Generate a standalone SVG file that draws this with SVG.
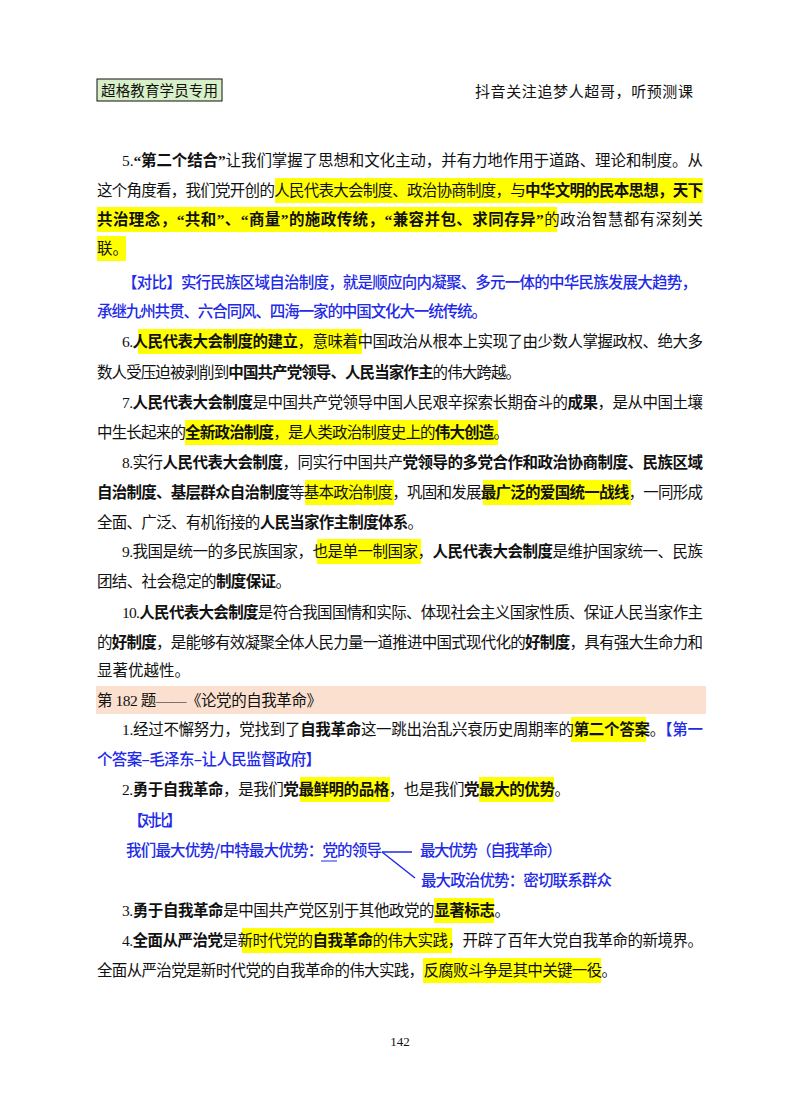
<svg xmlns="http://www.w3.org/2000/svg" width="800" height="1114" viewBox="0 0 800 1114">
<style>
text{font-family:"Liberation Serif","Noto Sans CJK SC",serif;font-size:15.5px;fill:#111}
.b{font-weight:bold}
.bl{fill:#1f2be8;font-family:"Noto Sans CJK SC",sans-serif;font-weight:500}
.hl{fill:#ffff00}
</style>
<rect width="800" height="1114" fill="#fff"/>
<g id="header">
<rect x="97" y="79" width="125" height="22" fill="#d8f0c8" stroke="#111" stroke-width="1"/>
<text x="101" y="96" style="font-size:14.5px" textLength="117">超格教育学员专用</text>
<text x="475" y="97" style="font-size:15px" textLength="218">抖音关注追梦人超哥，听预测课</text>
</g>
<g id="highlights">
<rect class="hl" x="275" y="178" width="428" height="25"/>
<rect class="hl" x="97" y="207" width="460" height="25"/>
<rect class="hl" x="97" y="236" width="29" height="25"/>
<rect class="hl" x="138" y="329" width="224" height="25"/>
<rect class="hl" x="185" y="420" width="313" height="25"/>
<rect class="hl" x="305" y="480" width="89" height="25"/>
<rect class="hl" x="483" y="480" width="148" height="25"/>
<rect class="hl" x="317" y="539" width="104" height="25"/>
<rect x="96" y="686" width="610" height="28" fill="#fbe0cf"/>
<rect class="hl" x="571" y="717" width="75" height="25"/>
<rect class="hl" x="300" y="777" width="90" height="25"/>
<rect class="hl" x="479" y="777" width="75" height="25"/>
<rect class="hl" x="434" y="898" width="60" height="25"/>
<rect class="hl" x="242" y="928" width="210" height="25"/>
<rect class="hl" x="423" y="958" width="178" height="25"/>
</g>
<g id="body">
<text x="122" y="166" textLength="581">5.<tspan class="b">“第二个结合”</tspan>让我们掌握了思想和文化主动，并有力地作用于道路、理论和制度。从</text>
<text x="97" y="196" textLength="606">这个角度看，我们党开创的人民代表大会制度、政治协商制度，与<tspan class="b">中华文明的民本思想，天下</tspan></text>
<text x="97" y="225" textLength="606"><tspan class="b">共治理念，“共和”、“商量”的施政传统，“兼容并包、求同存异”</tspan>的政治智慧都有深刻关</text>
<text x="97" y="254">联。</text>
<text x="122" y="288" class="bl" textLength="575">【对比】实行民族区域自治制度，就是顺应向内凝聚、多元一体的中华民族发展大趋势，</text>
<text x="97" y="317" class="bl" textLength="390">承继九州共贯、六合同风、四海一家的中国文化大一统传统。</text>
<text x="122" y="347" textLength="581">6.<tspan class="b">人民代表大会制度的建立</tspan>，意味着中国政治从根本上实现了由少数人掌握政权、绝大多</text>
<text x="97" y="378" textLength="424">数人受压迫被剥削到<tspan class="b">中国共产党领导、人民当家作主</tspan>的伟大跨越。</text>
<text x="122" y="408" textLength="581">7.<tspan class="b">人民代表大会制度</tspan>是中国共产党领导中国人民艰辛探索长期奋斗的<tspan class="b">成果</tspan>，是从中国土壤</text>
<text x="97" y="438" textLength="412">中生长起来的<tspan class="b">全新政治制度</tspan>，是人类政治制度史上的<tspan class="b">伟大创造</tspan>。</text>
<text x="122" y="468" textLength="581">8.实行<tspan class="b">人民代表大会制度</tspan>，同实行中国共产<tspan class="b">党领导的多党合作和政治协商制度、民族区域</tspan></text>
<text x="97" y="498" textLength="606"><tspan class="b">自治制度、基层群众自治制度</tspan>等基本政治制度，巩固和发展<tspan class="b">最广泛的爱国统一战线</tspan>，一同形成</text>
<text x="97" y="528" textLength="326">全面、广泛、有机衔接的<tspan class="b">人民当家作主制度体系</tspan>。</text>
<text x="122" y="557" textLength="581">9.我国是统一的多民族国家，也是单一制国家，<tspan class="b">人民代表大会制度</tspan>是维护国家统一、民族</text>
<text x="97" y="587" textLength="194">团结、社会稳定的<tspan class="b">制度保证</tspan>。</text>
<text x="122" y="618" textLength="581">10.<tspan class="b">人民代表大会制度</tspan>是符合我国国情和实际、体现社会主义国家性质、保证人民当家作主</text>
<text x="97" y="648" textLength="606">的<tspan class="b">好制度</tspan>，是能够有效凝聚全体人民力量一道推进中国式现代化的<tspan class="b">好制度</tspan>，具有强大生命力和</text>
<text x="97" y="676" textLength="93">显著优越性。</text>
<text x="97" y="706" textLength="225">第 182 题——《论党的自我革命》</text>
<text x="122" y="735" textLength="581">1.经过不懈努力，党找到了<tspan class="b">自我革命</tspan>这一跳出治乱兴衰历史周期率的<tspan class="b">第二个答案</tspan>。<tspan class="bl">【第一</tspan></text>
<text x="97" y="765" class="bl" textLength="224">个答案–毛泽东–让人民监督政府】</text>
<text x="122" y="795" textLength="448">2.<tspan class="b">勇于自我革命</tspan>，是我们<tspan class="b">党最鲜明的品格</tspan>，也是我们<tspan class="b">党最大的优势</tspan>。</text>
<text x="128" y="826" class="bl" textLength="54">【对比】</text>
<text x="126" y="856" class="bl" textLength="256">我们最大优势/中特最大优势：党的领导</text>
<text x="420" y="856" class="bl" textLength="142">最大优势（自我革命）</text>
<text x="421" y="886" class="bl" textLength="191">最大政治优势：密切联系群众</text>
<text x="122" y="916" textLength="388">3.<tspan class="b">勇于自我革命</tspan>是中国共产党区别于其他政党的<tspan class="b">显著标志</tspan>。</text>
<text x="122" y="946" textLength="581">4.<tspan class="b">全面从严治党</tspan>是新时代党的<tspan class="b">自我革命</tspan>的伟大实践，开辟了百年大党自我革命的新境界。</text>
<text x="97" y="976" textLength="520">全面从严治党是新时代党的自我革命的伟大实践，反腐败斗争是其中关键一役。</text>
<text x="400" y="1046" text-anchor="middle" style="font-size:13px">142</text>
</g>
<g id="connectors" stroke="#1f2be8" stroke-width="1.5" fill="none">
<line x1="321" y1="861" x2="337" y2="861" stroke-width="1"/>
<line x1="382" y1="852" x2="412" y2="852"/>
<line x1="382" y1="852" x2="415" y2="878"/>
</g>
</svg>
